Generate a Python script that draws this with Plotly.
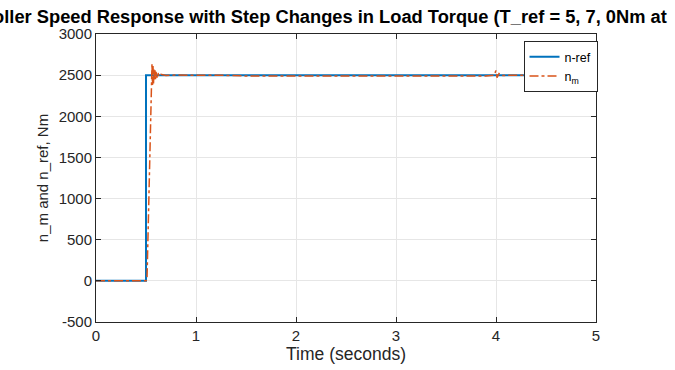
import plotly.graph_objects as go

# Reference speed (step at t = 0.5 s)
t_ref = [0, 0.5, 0.5, 5]
n_ref = [0, 0, 2500, 2500]

t_m = [0, 0.50, 0.51, 0.52, 0.53, 0.54, 0.55, 0.555, 0.56, 0.565, 0.57, 0.575, 0.58, 0.585,
       0.59, 0.595, 0.60, 0.61, 0.62, 0.63, 0.65, 0.70, 0.80, 1.0, 1.2, 1.5, 1.7, 2.0, 2.3,
       2.6, 3.0, 3.3, 3.6, 3.9, 3.98, 4.0, 4.01, 4.03, 4.06, 4.2, 4.5, 5.0]
n_m = [0, 0, 20, 600, 1300, 1900, 2400, 2550, 2640, 2380, 2610, 2400, 2580, 2430,
       2560, 2450, 2540, 2470, 2525, 2485, 2510, 2495, 2502, 2498, 2500, 2490, 2488, 2492, 2489,
       2491, 2488, 2490, 2489, 2491, 2500, 2555, 2470, 2520, 2495, 2500, 2499, 2500]

x_ticks = [0, 1, 2, 3, 4, 5]
y_ticks = [-500, 0, 500, 1000, 1500, 2000, 2500, 3000]
y_tick_labels = ["-500", "0", "500", "1000", "1500", "2000", "2500", "3000"]

font_fam = "Liberation Sans, Arial"

fig = go.Figure()
fig.add_trace(go.Scatter(x=t_ref, y=n_ref, mode="lines", name="n-ref",
                         line=dict(color="#0072BD", width=2)))
fig.add_trace(go.Scatter(x=t_m, y=n_m, mode="lines", name="n<sub>m</sub>",
                         line=dict(color="#D95319", width=1.5, dash="dashdot")))

axis_common = dict(showline=True, linecolor="#262626", linewidth=1, mirror="ticks",
                   ticks="inside", ticklen=5, tickcolor="#262626",
                   showgrid=True, gridcolor="#E6E6E6", gridwidth=1, zeroline=False,
                   tickfont=dict(family=font_fam, size=15, color="#262626"))

fig.update_xaxes(range=[0, 5], tickvals=x_ticks, **axis_common,
                 title=dict(text="Time (seconds)", standoff=3,
                            font=dict(family=font_fam, size=17.5, color="#262626")))
fig.update_yaxes(range=[-500, 3000], tickvals=y_ticks, ticktext=y_tick_labels, **axis_common,
                 title=dict(text="n_m and n_ref, Nm", standoff=6,
                            font=dict(family=font_fam, size=15, color="#262626")))

fig.update_layout(
    width=675, height=370,
    margin=dict(l=96, r=79, t=34, b=48),
    paper_bgcolor="white", plot_bgcolor="white",
    showlegend=True,
    legend=dict(x=0.855, y=0.975, xanchor="left", yanchor="top",
                bgcolor="white", bordercolor="#262626", borderwidth=1,
                font=dict(family=font_fam, size=12.5, color="#000000"),
                tracegroupgap=0, itemwidth=30),
    annotations=[dict(text="<b>PI Controller Speed Response with Step Changes in Load Torque (T_ref = 5, 7, 0Nm at</b>",
                      xref="paper", yref="paper", x=1.145, y=1.0, xanchor="right", yanchor="bottom",
                      yshift=5, showarrow=False,
                      font=dict(family=font_fam, size=18.3, color="#000000"))],
)

fig.write_html("out.html")
